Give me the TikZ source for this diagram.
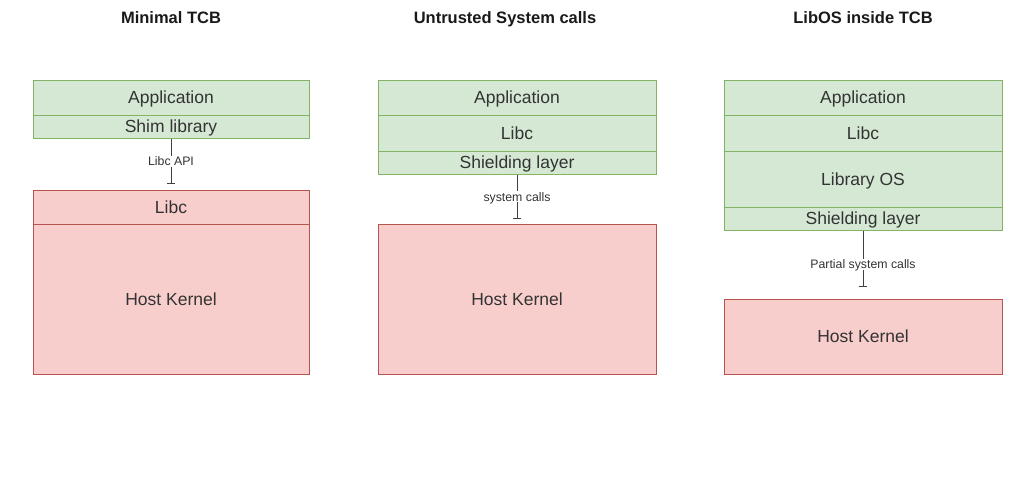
\documentclass[tikz,border=0pt]{standalone}
\usepackage{fontspec}
\setmainfont{Liberation Sans}
\usepackage{xcolor}
\usepackage{tikz}
\usetikzlibrary{arrows.meta,positioning}
\definecolor{tcbgreen}{HTML}{D5E8D4}
\definecolor{tcbline}{HTML}{82B366}
\definecolor{hostred}{HTML}{F8CECC}
\definecolor{hostline}{HTML}{B85450}

\begin{document}
\begin{tikzpicture}[
    x=1pt, y=-1pt,
    layer/.style={rectangle, line width=1pt, inner sep=0pt, text height=12.5pt, text depth=0pt, text=black!80, font=\fontsize{17.5}{20}\selectfont},
    trusted/.style={layer, draw=tcbline, fill=tcbgreen},
    host/.style={layer, draw=hostline, fill=hostred},
    heading/.style={font=\bfseries\fontsize{16.5}{19}\selectfont, text=black!90},
    call/.style={-{Bar[width=8pt,line width=1pt]}, line width=1pt, draw=black!75},
    callname/.style={fill=white, inner sep=1pt, text height=9pt, text depth=0pt, text=black!80, font=\fontsize{12.3}{14}\selectfont}
]
    \useasboundingbox (0,0) rectangle (1032,493);

    % Minimal TCB
    \node[heading] (t1) at (171,18) {Minimal TCB};
    \node[trusted, minimum width=276pt, minimum height=35pt] (app1) at (171,97.5) {Application};
    \node[trusted, minimum width=276pt, minimum height=23pt] (shim1) at (171,126.5) {Shim library};
    \node[host, minimum width=276pt, minimum height=34pt] (libc1) at (171,207) {Libc};
    \node[host, minimum width=276pt, minimum height=150pt] (kern1) at (171,299) {Host Kernel};
    \coordinate (end1) at (171,184);
    \draw[call] (shim1) -- node[callname] {Libc API} (end1);

    % Untrusted System calls
    \node[heading] (t2) at (505,19) {Untrusted System calls};
    \node[trusted, minimum width=278pt, minimum height=35pt] (app2) at (517,97.5) {Application};
    \node[trusted, minimum width=278pt, minimum height=36pt] (libc2) at (517,133) {Libc};
    \node[trusted, minimum width=278pt, minimum height=23pt] (shield2) at (517,162.5) {Shielding layer};
    \node[host, minimum width=278pt, minimum height=150pt] (kern2) at (517,299) {Host Kernel};
    \coordinate (end2) at (517,219);
    \draw[call] (shield2) -- node[callname] {system calls} (end2);

    % LibOS inside TCB
    \node[heading] (t3) at (863,18) {LibOS inside TCB};
    \node[trusted, minimum width=278pt, minimum height=35pt] (app3) at (863,97.5) {Application};
    \node[trusted, minimum width=278pt, minimum height=36pt] (libc3) at (863,133) {Libc};
    \node[trusted, minimum width=278pt, minimum height=56pt] (los3) at (863,179) {Library OS};
    \node[trusted, minimum width=278pt, minimum height=23pt] (shield3) at (863,218.5) {Shielding layer};
    \node[host, minimum width=278pt, minimum height=75pt] (kern3) at (863,336.5) {Host Kernel};
    \coordinate (end3) at (863,287);
    \draw[call] (shield3) -- node[callname, pos=0.6] {Partial system calls} (end3);
\end{tikzpicture}
\end{document}
